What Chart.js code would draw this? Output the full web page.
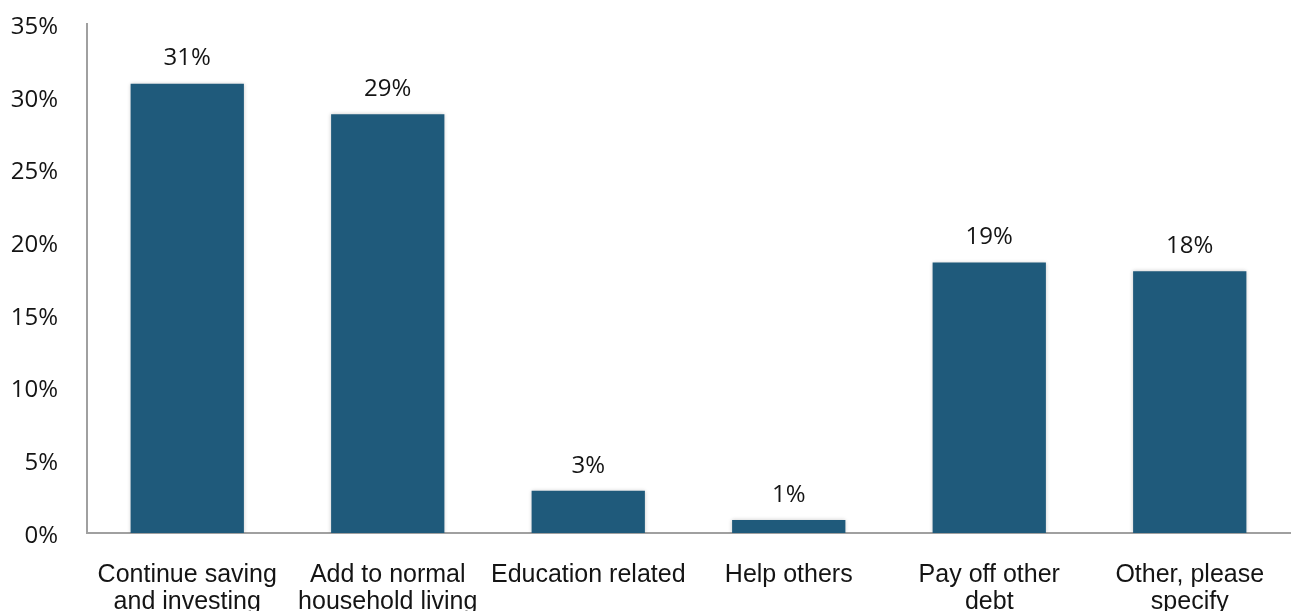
<!DOCTYPE html>
<html>
<head>
<meta charset="utf-8">
<script src="https://cdn.jsdelivr.net/npm/chart.js@4"></script>
<style>
  html, body { margin: 0; padding: 0; background: #ffffff; }
  #wrap { width: 1293px; height: 611px; }
</style>
</head>
<body>
<div id="wrap"><canvas id="chart" width="1293" height="611"></canvas></div>
<script>
// Planned use of the funds (share of respondents, %)
const categories = [
  ["Continue saving", "and investing"],
  ["Add to normal", "household living"],
  "Education related",
  "Help others",
  ["Pay off other", "debt"],
  ["Other, please", "specify"]
];
const shares = [30.9, 28.8, 2.9, 0.9, 18.6, 18.0];
const yTicks = [0, 5, 10, 15, 20, 25, 30, 35];

const barColor = "#1f5a7b";
const axisColor = "#a0a0a0";
const textColor = "#141414";
const tickFont = { family: "'Open Sans', 'Noto Sans', sans-serif", size: 24 };
const catFont = { family: "'Liberation Sans', Arial, sans-serif", size: 25, lineHeight: 1.08 };

// Soft drop shadow around the bars
const barShadow = {
  id: "barShadow",
  beforeDatasetsDraw(chart) {
    const ctx = chart.ctx;
    ctx.save();
    ctx.shadowColor = "rgba(0,0,0,0.22)";
    ctx.shadowBlur = 4;
    ctx.shadowOffsetX = 0;
    ctx.shadowOffsetY = 0;
  },
  afterDatasetsDraw(chart) {
    chart.ctx.restore();
  }
};

// Percentage labels above each bar
const valueLabels = {
  id: "valueLabels",
  afterDatasetsDraw(chart) {
    const ctx = chart.ctx;
    const meta = chart.getDatasetMeta(0);
    ctx.save();
    ctx.fillStyle = textColor;
    ctx.font = `${tickFont.size}px ${tickFont.family}`;
    ctx.textAlign = "center";
    ctx.textBaseline = "middle";
    meta.data.forEach((bar, i) => {
      const v = chart.data.datasets[0].data[i];
      ctx.fillText(Math.round(v) + "%", bar.x, bar.y - 25);
    });
    ctx.restore();
  }
};

new Chart(document.getElementById("chart"), {
  type: "bar",
  data: {
    labels: categories,
    datasets: [{
      data: shares,
      backgroundColor: barColor,
      borderWidth: 0,
      barPercentage: 0.565,
      categoryPercentage: 1.0
    }]
  },
  options: {
    responsive: false,
    animation: false,
    layout: { padding: { top: 24, right: 3, left: 0, bottom: 0 } },
    plugins: {
      legend: { display: false },
      tooltip: { enabled: false }
    },
    scales: {
      x: {
        afterFit(axis) {
          axis.height = 78;
          axis.paddingLeft = 0;
          axis.paddingRight = 0;
        },
        grid: { display: false, drawTicks: false },
        border: { color: axisColor, width: 2 },
        ticks: {
          color: textColor,
          font: catFont,
          padding: 29,
          maxRotation: 0,
          autoSkip: false
        }
      },
      y: {
        min: 0,
        max: 35,
        afterBuildTicks(axis) {
          axis.ticks = yTicks.map(v => ({ value: v }));
        },
        afterFit(axis) {
          axis.width = 87;
          axis.paddingTop = 0;
          axis.paddingBottom = 0;
        },
        grid: { display: false, drawTicks: false },
        border: { color: axisColor, width: 2 },
        ticks: {
          color: textColor,
          font: tickFont,
          padding: 29,
          labelOffset: 3,
          callback: v => v + "%"
        }
      }
    }
  },
  plugins: [barShadow, valueLabels]
});
</script>
</body>
</html>
